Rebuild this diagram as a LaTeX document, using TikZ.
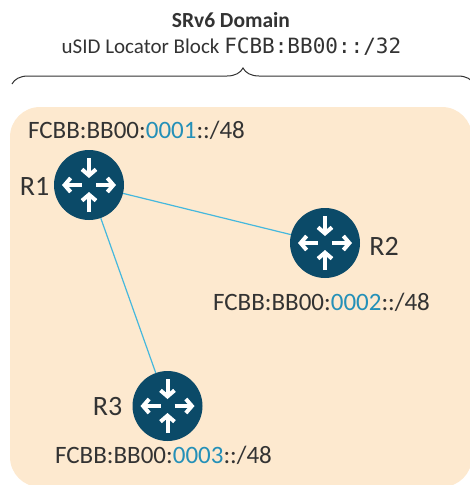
\documentclass[tikz,border=0pt]{standalone}
\usepackage{fontspec}
\setmainfont{Carlito}
\newfontfamily\monofont{DejaVu Sans Mono}
\usetikzlibrary{arrows.meta,decorations.pathreplacing}
\definecolor{boxfill}{HTML}{FDE9CF}
\definecolor{routerblue}{HTML}{0B4A68}
\definecolor{linkblue}{HTML}{45B8DD}
\definecolor{sidblue}{HTML}{2490B8}
\definecolor{textgray}{HTML}{333333}
\tikzset{
  router/.style={circle,fill=routerblue,minimum size=70pt,inner sep=0pt},
  link/.style={linkblue,line width=1.2pt},
  addr/.style={anchor=base,text=textgray,font=\fontsize{25}{30}\selectfont},
  rname/.style={anchor=base,text=textgray,font=\fontsize{28}{32}\selectfont},
  rarrow/.style={white,line width=4pt,-{Straight Barb[length=6pt,width=14pt]}}
}
\newcommand\sidpart[1]{\textcolor{sidblue}{#1}}
\begin{document}
\begin{tikzpicture}[x=1pt,y=-1pt]
        \useasboundingbox (0,0) rectangle (470,485);
        %% Domain
        \fill[boxfill,rounded corners=30pt] (10,107) rectangle (472,487);
        \draw[textgray,line width=1pt,decorate,decoration={brace,amplitude=16pt}] (12,84) -- (474,84);
        \node[anchor=base,text=textgray,font=\fontsize{21.5}{26}\selectfont\bfseries] (title) at (231,27) {SRv6 Domain};
        \node[anchor=base,text=textgray,font=\fontsize{21}{26}\selectfont] (block) at (231.5,53) {uSID Locator Block {\monofont FCBB:BB00::/32}};
        %% Routers
        \node[router] (r1) at (89,185)    {};
        \node[router] (r2) at (325,243)   {};
        \node[router] (r3) at (167.5,406) {};
        \draw[link] (r1) -- (r2);
        \draw[link] (r1) -- (r3);
        \foreach \r in {r1,r2,r3}{
            \draw[rarrow] ([yshift=27pt]\r.center)  -- ([yshift=7pt]\r.center);
            \draw[rarrow] ([yshift=-27pt]\r.center) -- ([yshift=-7pt]\r.center);
            \draw[rarrow] ([xshift=-7pt]\r.center)  -- ([xshift=-27pt]\r.center);
            \draw[rarrow] ([xshift=7pt]\r.center)   -- ([xshift=27pt]\r.center);
        }
        %% Labels
        \node[rname] (n1) at (34.5,195) {R1};
        \node[rname] (n2) at (384,255)  {R2};
        \node[rname] (n3) at (107.5,415) {R3};
        \node[addr] (a1) at (136.5,138) {FCBB:BB00:\sidpart{0001}::/48};
        \node[addr] (a2) at (321.5,310) {FCBB:BB00:\sidpart{0002}::/48};
        \node[addr] (a3) at (163.5,463) {FCBB:BB00:\sidpart{0003}::/48};
    \end{tikzpicture}
\end{document}
